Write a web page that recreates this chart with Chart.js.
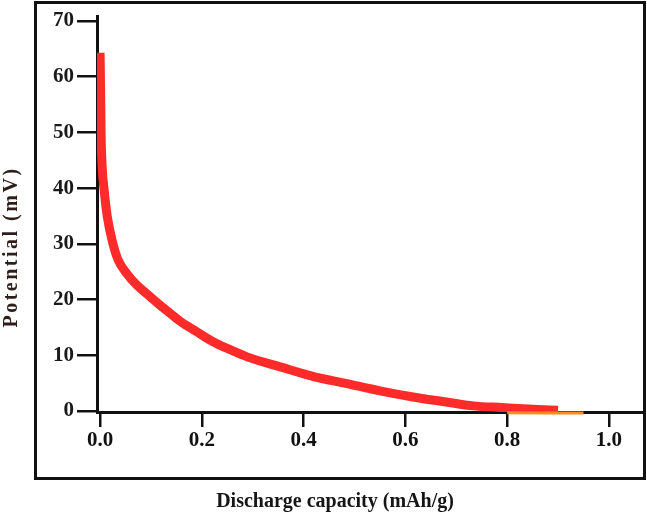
<!DOCTYPE html>
<html>
<head>
<meta charset="utf-8">
<script src="https://cdn.jsdelivr.net/npm/chart.js@4/dist/chart.umd.min.js"></script>
<style>
  html, body { margin: 0; padding: 0; background: #ffffff; }
  #wrap { width: 647px; height: 519px; }
</style>
</head>
<body>
<div id="wrap"><canvas id="c" width="647" height="519"></canvas></div>
<script>
// Discharge curve (capacity in mAh/g, potential in mV)
const capacity = [0, 0.001, 0.002, 0.004, 0.008, 0.014, 0.024, 0.035, 0.053, 0.07, 0.092, 0.115, 0.138, 0.157, 0.19, 0.222, 0.255, 0.289, 0.354, 0.418, 0.485, 0.55, 0.615, 0.68, 0.733, 0.79, 0.85, 0.9];
const potential = [64.3, 58, 50, 44, 39.7, 35, 30.5, 27.2, 24.6, 22.8, 21.0, 19.2, 17.5, 16.1, 14.2, 12.4, 11, 9.7, 7.9, 6.2, 4.9, 3.6, 2.5, 1.6, 0.9, 0.6, 0.3, 0.1];
// Tail of the curve (drawn in orange along the x axis)
const tailCapacity = [0.8, 0.88, 0.95];
const tailPotential = [-0.35, -0.4, -0.4];

const xTicks = [0.0, 0.2, 0.4, 0.6, 0.8, 1.0];
const yTicks = [0, 10, 20, 30, 40, 50, 60, 70];

const xTitle = 'Discharge capacity (mAh/g)';
const yTitle = 'Potential (mV)';

const toPts = (xs, ys) => xs.map((x, i) => ({ x: x, y: ys[i] }));

const tickFont = { family: '"Liberation Serif", "Times New Roman", serif', size: 21, weight: 'bold' };

const decor = {
  id: 'decor',
  afterDraw(chart) {
    const ctx = chart.ctx;
    ctx.save();
    // outer frame
    ctx.strokeStyle = '#111';
    ctx.lineWidth = 3;
    ctx.strokeRect(35.5, 2.5, 609, 476);
    // x axis title
    ctx.fillStyle = '#151515';
    ctx.font = 'bold 20px "Liberation Serif", "Times New Roman", serif';
    ctx.textAlign = 'center';
    ctx.textBaseline = 'middle';
    ctx.fillText(xTitle, 335, 502);
    // y axis title
    ctx.translate(12, 247);
    ctx.rotate(-Math.PI / 2);
    ctx.fillStyle = '#2e1e1a';
    try { ctx.letterSpacing = '2.5px'; } catch (e) {}
    ctx.fillText(yTitle, 0, 0);
    ctx.restore();
  }
};

new Chart(document.getElementById('c'), {
  type: 'line',
  data: {
    datasets: [
      {
        data: toPts(tailCapacity, tailPotential),
        borderColor: '#ff8a1e',
        borderWidth: 3,
        pointRadius: 0,
        clip: false,
        fill: false
      },
      {
        data: toPts(capacity, potential),
        borderColor: '#ff2a2a',
        borderWidth: 9,
        pointRadius: 0,
        cubicInterpolationMode: 'monotone',
        fill: false
      }
    ]
  },
  options: {
    responsive: false,
    animation: false,
    layout: { padding: { left: 0, right: 5, top: 16, bottom: 0 } },
    plugins: { legend: { display: false }, tooltip: { enabled: false }, title: { display: false } },
    scales: {
      x: {
        type: 'linear',
        min: -0.006,
        max: 1.065,
        afterBuildTicks: (s) => { s.ticks = xTicks.map(v => ({ value: v })); },
        afterFit: (s) => { s.height = 107; },
        ticks: {
          color: '#111',
          font: tickFont,
          padding: 1,
          maxRotation: 0,
          autoSkip: false,
          callback: (v) => Number(v).toFixed(1)
        },
        grid: { drawOnChartArea: false, drawTicks: true, tickLength: 15, color: '#111', lineWidth: 2.5 },
        border: { display: true, color: '#111', width: 3 }
      },
      y: {
        type: 'linear',
        min: -0.2,
        max: 70.9,
        afterBuildTicks: (s) => { s.ticks = yTicks.map(v => ({ value: v })); },
        afterFit: (s) => { s.width = 97; },
        ticks: {
          color: '#1a1a1a',
          font: tickFont,
          padding: 3,
          autoSkip: false,
          callback: (v) => String(v)
        },
        grid: { drawOnChartArea: false, drawTicks: true, tickLength: 20, color: '#111', lineWidth: 2.5 },
        border: { display: true, color: '#111', width: 3 }
      }
    }
  },
  plugins: [decor]
});
</script>
</body>
</html>
